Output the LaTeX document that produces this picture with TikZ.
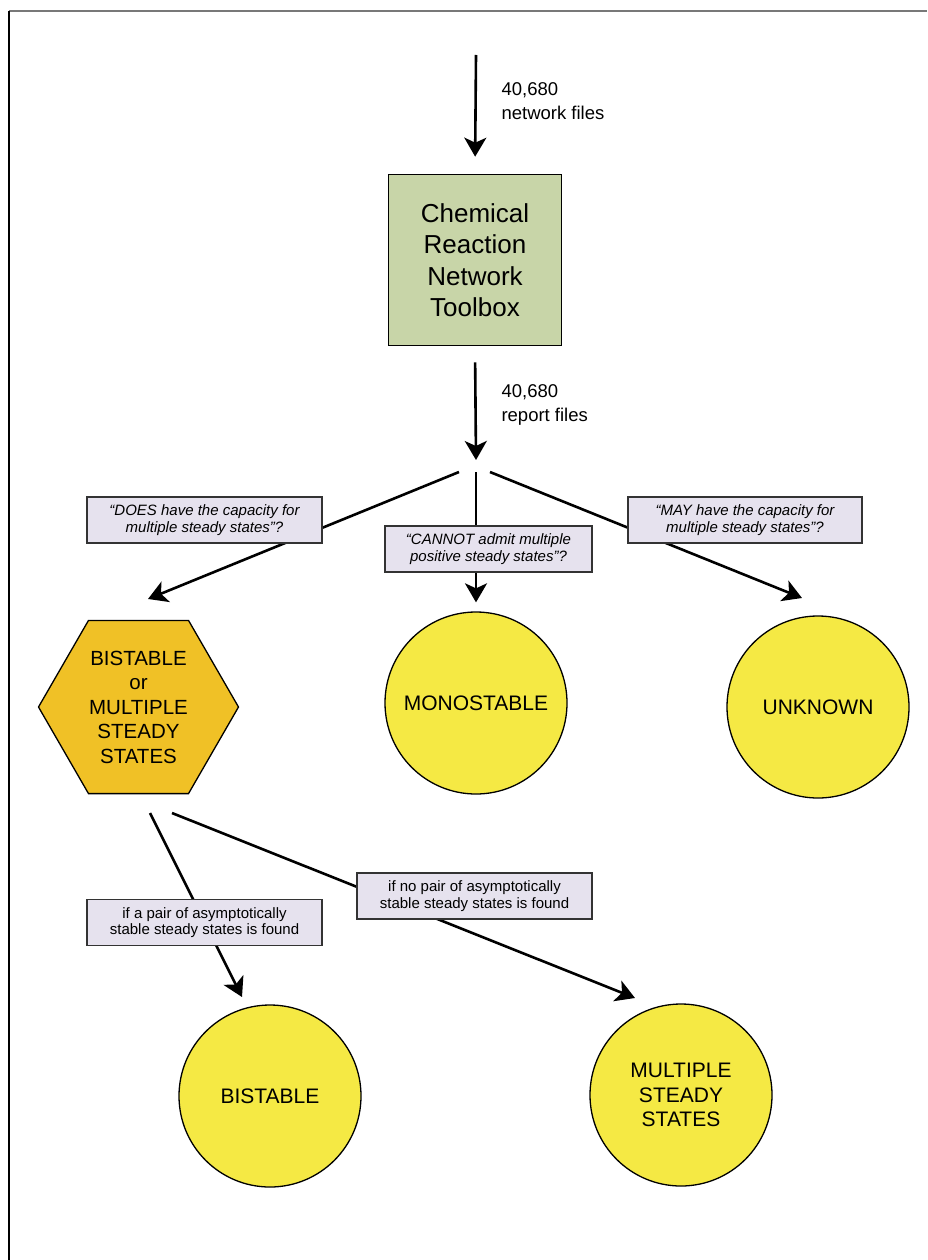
\documentclass[tikz,border=0pt]{standalone}
\usepackage{fontspec}
\setmainfont{Liberation Sans}
\usetikzlibrary{arrows.meta,shapes.geometric}

\definecolor{toolgreen}{RGB}{200,213,168}
\definecolor{hexorange}{RGB}{240,193,38}
\definecolor{circyellow}{RGB}{245,233,68}
\definecolor{labelgray}{RGB}{230,226,238}
\definecolor{framegray}{RGB}{120,120,120}

\begin{document}
\begin{tikzpicture}[x=1pt,y=-1pt,
    arr/.style={line width=2.6pt,-{Stealth[length=19pt,width=22pt,inset=5pt]}},
    toolbox/.style={draw,line width=1.6pt,fill=toolgreen,minimum width=173pt,minimum height=171pt,
        align=center,font=\fontsize{26}{31.5}\selectfont},
    outcome/.style={circle,draw,line width=1.3pt,fill=circyellow,minimum size=182pt,inner sep=0pt,
        align=center,font=\fontsize{21}{24.5}\selectfont},
    hexbox/.style={regular polygon,regular polygon sides=6,draw,line width=1.3pt,fill=hexorange,
        minimum size=200pt,inner sep=0pt,align=center,font=\fontsize{20.5}{24.5}\selectfont},
    query/.style={draw=black!80,line width=1.4pt,fill=labelgray,minimum height=46pt,inner sep=2pt,
        align=center,font=\fontsize{15}{16.5}\selectfont},
    tally/.style={anchor=west,align=left,font=\fontsize{18.5}{23.5}\selectfont}]
    \useasboundingbox (0,0) rectangle (927,1260);
    \draw[line width=2pt,framegray] (9,11) -- (927,11);
    \draw[line width=2pt] (9,11) -- (9,1260);

    \node[toolbox] (crnt) at (475,260) {Chemical\\Reaction\\Network\\Toolbox};
    \node[hexbox] (multi) at (138.5,707) {BISTABLE\\or\\MULTIPLE\\STEADY\\STATES};
    \node[outcome] (mono) at (476,703) {MONOSTABLE};
    \node[outcome] (unknown) at (818,707) {UNKNOWN};
    \node[outcome] (bist) at (270,1096) {BISTABLE};
    \node[outcome] (mss) at (681,1095) {MULTIPLE\\STEADY\\STATES};

    \coordinate (in) at (476,55);
    \coordinate (fork) at (476,460);
    \coordinate (forkL) at (459,472);
    \coordinate (forkM) at (476,472);
    \coordinate (forkR) at (490,472);
    \coordinate (toMulti) at (148,599);
    \coordinate (toUnknown) at (802,598);
    \coordinate (hexL) at (150,813);
    \coordinate (hexR) at (172,813);
    \coordinate (toBist) at (242,997);
    \coordinate (toMss) at (635,998);

    \draw[arr,shorten >=17pt] (in) -- (crnt.north);
    \draw[arr,shorten <=16pt] (crnt.south) -- (fork);
    \draw[arr] (forkL) -- (toMulti);
    \draw[arr,shorten >=9pt] (forkM) -- (mono);
    \draw[arr] (forkR) -- (toUnknown);
    \draw[arr] (hexL) -- (toBist);
    \draw[arr] (hexR) -- (toMss);

    \node[tally] (netfiles) at (498,101) {40,680\\network files};
    \node[tally] (repfiles) at (498,405) {40,680\\report files};

    \node[query,minimum width=235pt] (qdoes) at (204.5,520) {\itshape “DOES have the capacity for\\\itshape multiple steady states”?};
    \node[query,minimum width=207pt] (qcannot) at (488.5,549) {\itshape “CANNOT admit multiple\\\itshape positive steady states”?};
    \node[query,minimum width=234pt] (qmay) at (745,520) {\itshape “MAY have the capacity for\\\itshape multiple steady states”?};
    \node[query,minimum width=235pt] (qpair) at (204.5,922.5) {if a pair of asymptotically\\stable steady states is found};
    \node[query,minimum width=235pt] (qnopair) at (474.5,896) {if no pair of asymptotically\\stable steady states is found};
\end{tikzpicture}
\end{document}
